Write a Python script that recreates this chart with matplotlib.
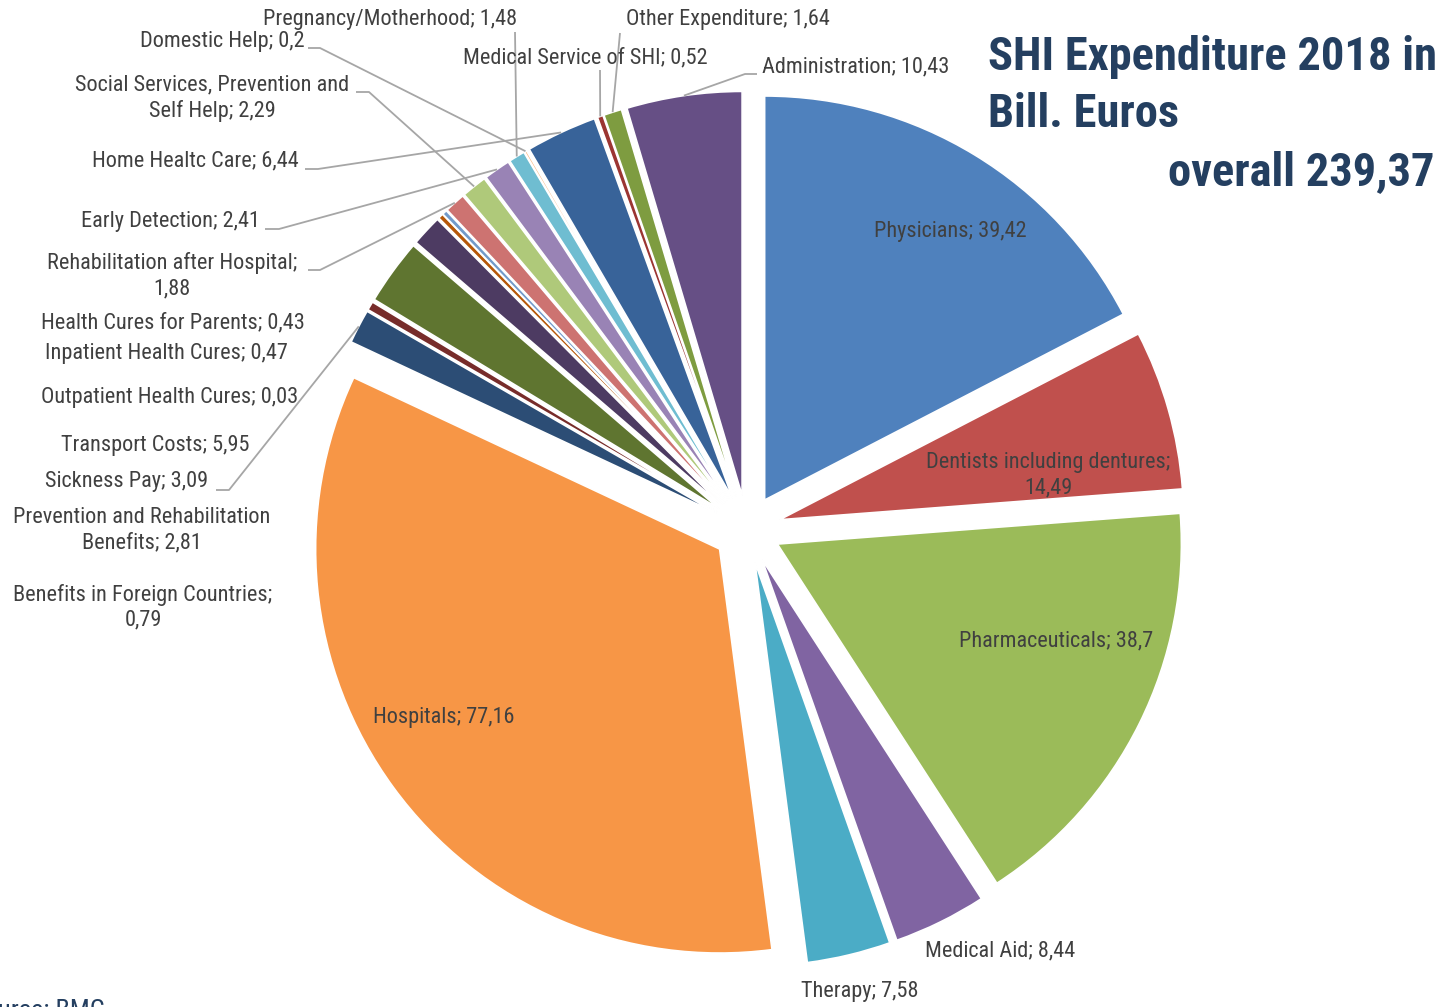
import numpy as np
import matplotlib.pyplot as plt

plt.rcParams['font.family'] = ['Roboto Condensed', 'Archivo Narrow', 'Liberation Sans', 'DejaVu Sans']

# data, clockwise from 12 o'clock
categories = [
    "Physicians", "Dentists including dentures", "Pharmaceuticals", "Medical Aid",
    "Therapy", "Hospitals", "Sickness Pay", "Benefits in Foreign Countries",
    "Transport Costs", "Prevention and Rehabilitation\nBenefits", "Outpatient Health Cures",
    "Inpatient Health Cures", "Health Cures for Parents", "Rehabilitation after Hospital",
    "Social Services, Prevention and\nSelf Help", "Early Detection", "Pregnancy/Motherhood",
    "Domestic Help", "Home Healtc Care", "Medical Service of SHI", "Other Expenditure",
    "Administration",
]
values = [39.42, 14.49, 38.7, 8.44, 7.58, 77.16, 3.09, 0.79, 5.95, 2.81, 0.03,
          0.47, 0.43, 1.88, 2.29, 2.41, 1.48, 0.2, 6.44, 0.52, 1.64, 10.43]
colors = ['#4F81BD', '#C0504D', '#9BBB59', '#8064A2', '#4BACC6', '#F79646',
          '#2C4D75', '#772C2A', '#5F7530', '#4D3B62', '#276A7C', '#B65708',
          '#729ACA', '#CD7371', '#AFC97A', '#9983B5', '#6FBDD1', '#F9AB6B',
          '#386399', '#9B3532', '#7E9C40', '#664F85']
line_break = ["Dentists including dentures", "Rehabilitation after Hospital",
              "Benefits in Foreign Countries"]
total = "239,37"

W, H = 1443, 1007
CX, CY, RPX = 747, 529, 404   # pie centre and radius in pixels

# label layout in pixels: x, y, ha, leader start (or None), leader elbow (or None)
layout = {
    "Physicians": (950, 232, 'center', None, None),
    "Dentists including dentures": (1048, 475, 'center', None, None),
    "Pharmaceuticals": (1056, 641, 'center', None, None),
    "Medical Aid": (1000, 951, 'center', None, None),
    "Therapy": (860, 992, 'center', None, None),
    "Hospitals": (444, 718, 'center', None, None),
    "Sickness Pay": (127, 482, 'center', (216, 490), (229, 490)),
    "Benefits in Foreign Countries": (143, 607, 'center', None, None),
    "Transport Costs": (155, 445, 'center', None, None),
    "Prevention and Rehabilitation\nBenefits": (142, 530, 'center', None, None),
    "Outpatient Health Cures": (170, 397, 'center', None, None),
    "Inpatient Health Cures": (166, 354, 'center', None, None),
    "Health Cures for Parents": (173, 323, 'center', None, None),
    "Rehabilitation after Hospital": (172, 276, 'center', (308, 270), (320, 270)),
    "Social Services, Prevention and\nSelf Help": (212, 98, 'center', (356, 92), (369, 92)),
    "Early Detection": (260, 222, 'right', (265, 229), (279, 229)),
    "Pregnancy/Motherhood": (390, 20, 'center', (515, 32), None),
    "Domestic Help": (305, 42, 'right', (308, 48), (320, 48)),
    "Home Healtc Care": (299, 161, 'right', (305, 169), (318, 169)),
    "Medical Service of SHI": (585, 58, 'center', (600, 70), None),
    "Other Expenditure": (728, 20, 'center', (620, 33), None),
    "Administration": (762, 67, 'left', (757, 74), (745, 74)),
}

fig = plt.figure(figsize=(W / 100, H / 100), dpi=100)
ax = fig.add_axes([0, 0, 1, 1])
wedges, _ = ax.pie(values, colors=colors, startangle=90, counterclock=False,
                   explode=[0.084] * len(values), radius=1,
                   wedgeprops=dict(edgecolor='white', linewidth=1.2))
ax.set_aspect('auto')
ax.set_xlim(-CX / RPX, (W - CX) / RPX)
ax.set_ylim(-(H - CY) / RPX, CY / RPX)
ax.axis('off')


def P(px, py):
    return (px - CX) / RPX, (CY - py) / RPX


def fmt(v):
    return ('%g' % v).replace('.', ',')


txt_col = '#404040'
for name, v, w in zip(categories, values, wedges):
    x, y, ha, start, elbow = layout[name]
    sep = ";\n" if name in line_break else "; "
    ax.text(*P(x, y), name + sep + fmt(v), ha=ha, va='center', fontsize=16,
            color=txt_col, linespacing=1.25)
    if start is not None:
        a = np.deg2rad((w.theta1 + w.theta2) / 2)
        ex = w.center[0] + w.r * np.cos(a)
        ey = w.center[1] + w.r * np.sin(a)
        pts = [P(*start)]
        if elbow is not None:
            pts.append(P(*elbow))
        pts.append((ex, ey))
        xs, ys = zip(*pts)
        ax.plot(xs, ys, color='#A6A6A6', lw=1.3, solid_capstyle='butt')

title_col = '#243F60'
fig.text(988 / W, 1 - 57 / H, "SHI Expenditure 2018 in", ha='left', va='center',
         fontsize=33.5, fontweight='bold', color=title_col)
fig.text(988 / W, 1 - 114 / H, "Bill. Euros", ha='left', va='center',
         fontsize=33.5, fontweight='bold', color=title_col)
fig.text(1435 / W, 1 - 172 / H, "overall " + total, ha='right', va='center',
         fontsize=33.5, fontweight='bold', color=title_col)
fig.text(105 / W, 1 - 1011 / H, "Source: BMG", ha='right', va='center',
         fontsize=19, color=title_col)

fig.savefig('out.png', dpi=100)
